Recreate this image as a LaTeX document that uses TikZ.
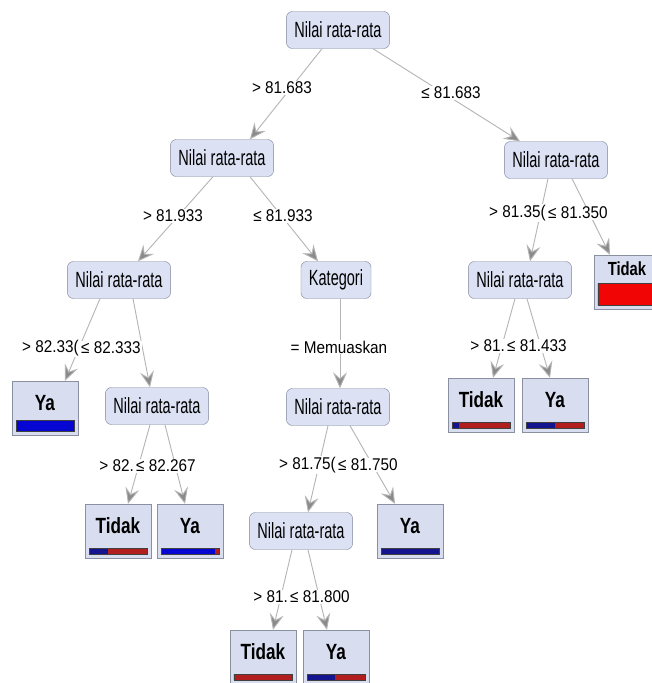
\documentclass[tikz,border=0pt]{standalone}
\usepackage{fontspec}
\setmainfont{Liberation Sans}
\newfontfamily\nodefont{Liberation Sans}[FakeStretch=0.66]
\newfontfamily\condfont{Liberation Sans}[FakeStretch=0.9]
\newfontfamily\leaffont{Liberation Sans}[FakeStretch=0.78]
\usetikzlibrary{calc, arrows.meta}

\definecolor{nodefill}{HTML}{DCE2F4}
\definecolor{nodeline}{HTML}{7E8499}
\definecolor{leaffill}{HTML}{D8DEEF}
\definecolor{leafline}{HTML}{8A90A0}
\definecolor{edgeline}{HTML}{B4B4B4}
\definecolor{tipfill}{HTML}{8A8A8A}
\definecolor{navy}{HTML}{14148F}
\definecolor{brightblue}{HTML}{0606D2}
\definecolor{darkred}{HTML}{B21E1E}
\definecolor{brightred}{HTML}{F20505}

\tikzset{
	split/.style = {draw = nodeline, fill = nodefill, rounded corners = 6pt, minimum height = 37pt, inner xsep = 8pt, font = \nodefont\fontsize{22}{24}\selectfont},
	leaf/.style = {draw = leafline, fill = leaffill, minimum width = 66pt, minimum height = 54pt, inner ysep = 12pt, text height = 17pt, text depth = 13pt, font = \leaffont\bfseries\fontsize{22}{24}\selectfont},
	cond/.style = {fill = white, inner sep = 1pt, font = \condfont\fontsize{17}{19}\selectfont},
	edge/.style = {draw = edgeline, line width = 0.9pt, -{Stealth[length = 16pt, width = 14pt, inset = 6pt, fill = tipfill, color = edgeline]}},
	bar/.style = {draw = black!75, line width = 0.6pt}
}

% name, position, class, share of blue, bar height, blue, red
\newcommand{\leafbox}[8][]{%
	\node [leaf, #1] (#2) at (#3) {#4};
	\coordinate (#2 bl) at ($(#2.south west) + (4, -4)$);
	\coordinate (#2 br) at ($(#2.south east) + (-4, -4)$);
	\fill [#7] (#2 bl) rectangle ($(#2 bl)!#5!(#2 br) + (0, -#6)$);
	\fill [#8] ($(#2 bl)!#5!(#2 br)$) rectangle ($(#2 br) + (0, -#6)$);
	\draw [bar] (#2 bl) rectangle ($(#2 br) + (0, -#6)$);
}

\begin{document}
\begin{tikzpicture}[x = 1pt, y = -1pt]
	\clip (0, 0) rectangle (652, 683);
	\fill [white] (0, 0) rectangle (652, 683);

	\begin{scope}
		\node [split] (n0) at (338, 30) {Nilai rata-rata};
		\node [split] (n1) at (222, 158) {Nilai rata-rata};
		\node [split] (n2) at (556, 160) {Nilai rata-rata};
		\node [split] (n3) at (119, 280) {Nilai rata-rata};
		\node [split] (n4) at (336, 280) {Kategori};
		\node [split] (n5) at (520, 280) {Nilai rata-rata};
		\node [split] (n6) at (157, 406) {Nilai rata-rata};
		\node [split] (n7) at (338, 407) {Nilai rata-rata};
		\node [split] (n8) at (301, 531) {Nilai rata-rata};
	\end{scope}

	\begin{scope}
		\leafbox[inner ysep = 6pt, text height = 14pt, text depth = 28pt, font = \leaffont\bfseries\fontsize{19}{21}\selectfont]{lT1}{627, 282}{Tidak}{0}{22}{navy}{brightred}
		\leafbox{lY1}{45, 408}{Ya}{1}{11}{brightblue}{darkred}
		\leafbox{lT2}{481, 405}{Tidak}{0.12}{6}{navy}{darkred}
		\leafbox{lY2}{555, 405}{Ya}{0.5}{6}{navy}{darkred}
		\leafbox{lT3}{118, 531}{Tidak}{0.33}{6}{navy}{darkred}
		\leafbox{lY3}{190, 531}{Ya}{0.92}{6}{brightblue}{darkred}
		\leafbox{lY4}{410, 531}{Ya}{1}{6}{navy}{darkred}
		\leafbox{lT5}{263, 657}{Tidak}{0}{6}{navy}{darkred}
		\leafbox{lY5}{336, 657}{Ya}{0.48}{6}{navy}{darkred}
	\end{scope}

	\begin{scope}
		\draw [edge] ([xshift = -16pt] n0.south) -- ([xshift = 28pt] n1.north);
		\draw [edge] ([xshift = 35pt] n0.south) -- ([xshift = -36pt] n2.north);
		\draw [edge] ([xshift = -9pt] n1.south) -- ([xshift = 19pt] n3.north);
		\draw [edge] ([xshift = 28pt] n1.south) -- ([xshift = -18pt] n4.north);
		\draw [edge] ([xshift = -8pt] n2.south) -- ([xshift = 10pt] n5.north);
		\draw [edge] ([xshift = 16pt] n2.south) -- ([xshift = -17pt] lT1.north);
		\draw [edge] ([xshift = -19pt] n3.south) -- ([xshift = 20pt] lY1.north);
		\draw [edge] ([xshift = 14pt] n3.south) -- ([xshift = -7pt] n6.north);
		\draw [edge] ([xshift = 4pt] n4.south) -- ([xshift = 2pt] n7.north);
		\draw [edge] ([xshift = -5pt] n5.south) -- ([xshift = 12pt] lT2.north);
		\draw [edge] ([xshift = 7pt] n5.south) -- ([xshift = -5pt] lY2.north);
		\draw [edge] ([xshift = -7pt] n6.south) -- ([xshift = 10pt] lT3.north);
		\draw [edge] ([xshift = 8pt] n6.south) -- ([xshift = -5pt] lY3.north);
		\draw [edge] ([xshift = -10pt] n7.south) -- ([xshift = 7pt] n8.north);
		\draw [edge] ([xshift = 12pt] n7.south) -- ([xshift = -15pt] lY4.north);
		\draw [edge] ([xshift = -9pt] n8.south) -- ([xshift = 10pt] lT5.north);
		\draw [edge] ([xshift = 7pt] n8.south) -- ([xshift = -9pt] lY5.north);
	\end{scope}

	\begin{scope}
		\node [cond] (c0l) at (282, 88) {> 81.683};
		\node [cond] (c0r) at (451, 93) {≤ 81.683};
		\node [cond] (c1l) at (173, 216) {> 81.933};
		\node [cond] (c1r) at (283, 216) {≤ 81.933};
		\node [cond, anchor = east] (c2l) at (547, 213) {> 81.35(};
		\node [cond, anchor = west] (c2r) at (547, 213) {≤ 81.350};
		\node [cond, anchor = east] (c3l) at (80, 348) {> 82.33(};
		\node [cond, anchor = west] (c3r) at (80, 348) {≤ 82.333};
		\node [cond] (c4) at (339, 347) {= Memuaskan};
		\node [cond, anchor = east] (c5l) at (506, 346) {> 81.};
		\node [cond, anchor = west] (c5r) at (506, 346) {≤ 81.433};
		\node [cond, anchor = east] (c6l) at (135, 466) {> 82.};
		\node [cond, anchor = west] (c6r) at (135, 466) {≤ 82.267};
		\node [cond, anchor = east] (c7l) at (337, 465) {> 81.75(};
		\node [cond, anchor = west] (c7r) at (337, 465) {≤ 81.750};
		\node [cond, anchor = east] (c8l) at (289, 597) {> 81.};
		\node [cond, anchor = west] (c8r) at (289, 597) {≤ 81.800};
	\end{scope}
\end{tikzpicture}
\end{document}
